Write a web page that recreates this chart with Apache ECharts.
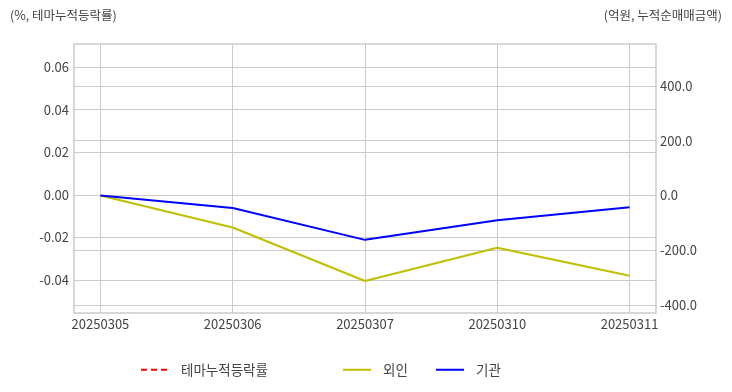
<!DOCTYPE html>
<html><head><meta charset="utf-8">
<script src="https://cdn.jsdelivr.net/npm/echarts@6/dist/echarts.min.js"></script>
<style>html,body{margin:0;padding:0;background:#fff}#c{width:732px;height:392px}</style>
</head><body><div id="c"></div>
<script>
const categories = ['20250305','20250306','20250307','20250310','20250311'];
const themeRate = [null, null, null, null, null];
const foreign = [0, -117, -312, -191, -293];
const institution = [0, -46, -162, -90, -43];
const leftTicks = [-0.04, -0.02, 0.00, 0.02, 0.04, 0.06];
const rightTicks = [-400, -200, 0, 200, 400];
const xTicks = [0, 1, 2, 3, 4];

const font = '"Noto Sans CJK KR", "Noto Sans", sans-serif';
const txt = '#444';
const grid = '#cccccc';
const pairs = arr => arr.map((v, i) => [i, v]);

const legendBase = {top: 358, itemWidth: 28, itemHeight: 10, itemStyle: {opacity: 0},
  textStyle: {color: txt, fontSize: 13.5, fontFamily: font, padding: [0,0,0,7]}};

const chart = echarts.init(document.getElementById('c'));
chart.setOption({
  animation: false,
  textStyle: {fontFamily: font},
  grid: {left: 74, right: 76, top: 44, bottom: 79, show: true, borderColor: grid, borderWidth: 1.5},
  xAxis: {
    type: 'value', min: -0.2, max: 4.2,
    axisLine: {show: false},
    axisTick: {show: false, customValues: xTicks},
    axisLabel: {customValues: xTicks, color: txt, fontSize: 13, fontFamily: font, margin: 5,
      formatter: v => categories[Math.round(v)]},
    splitLine: {show: true, lineStyle: {color: grid, width: 1}}
  },
  yAxis: [{
    type: 'value', min: -0.0555, max: 0.0708,
    axisLine: {show: false}, axisTick: {show: false, customValues: leftTicks},
    axisLabel: {customValues: leftTicks, color: txt, fontSize: 13, fontFamily: font, margin: 5,
      formatter: v => v.toFixed(2)},
    splitLine: {show: true, lineStyle: {color: grid, width: 1}}
  }, {
    type: 'value', min: -429, max: 553, position: 'right',
    axisLine: {show: false}, axisTick: {show: false, customValues: rightTicks},
    axisLabel: {customValues: rightTicks, color: txt, fontSize: 13, fontFamily: font, margin: 4,
      formatter: v => v.toFixed(1)},
    splitLine: {show: true, lineStyle: {color: grid, width: 1}}
  }],
  graphic: [
    {type: 'text', left: 10, top: 9, style: {text: '(%, 테마누적등락률)', fill: txt, font: '12.5px ' + font}},
    {type: 'text', right: 10, top: 9, style: {text: '(억원, 누적순매매금액)', fill: txt, font: '12.5px ' + font}}
  ],
  legend: [
    Object.assign({data: ['테마누적등락률'], left: 135}, legendBase),
    Object.assign({data: ['외인'], left: 337}, legendBase),
    Object.assign({data: ['기관'], left: 430}, legendBase)
  ],
  series: [
    {name: '테마누적등락률', type: 'line', yAxisIndex: 0, data: pairs(themeRate), symbol: 'none',
      itemStyle: {color: '#ff0000'}, lineStyle: {color: '#ff0000', type: [6, 4], width: 2}},
    {name: '외인', type: 'line', yAxisIndex: 1, data: pairs(foreign), symbol: 'none',
      itemStyle: {color: '#bfbf00'}, lineStyle: {color: '#bfbf00', width: 2}},
    {name: '기관', type: 'line', yAxisIndex: 1, data: pairs(institution), symbol: 'none',
      itemStyle: {color: '#0000ff'}, lineStyle: {color: '#0000ff', width: 2}}
  ]
});
</script></body></html>
